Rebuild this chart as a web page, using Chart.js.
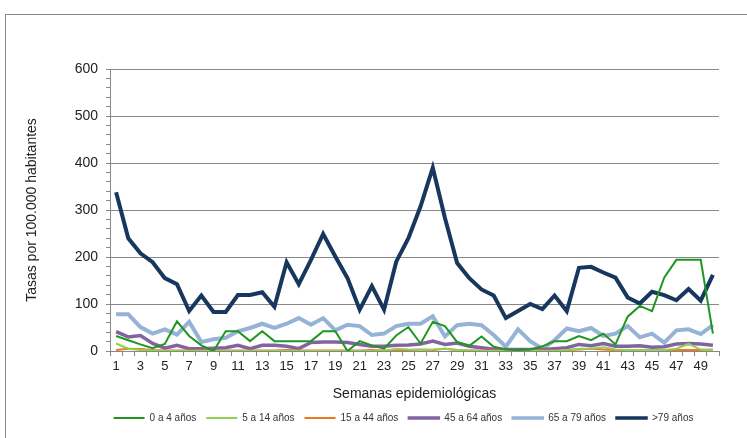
<!DOCTYPE html>
<html>
<head>
<meta charset="utf-8">
<script src="https://cdn.jsdelivr.net/npm/chart.js@4"></script>
<style>
  html, body { margin: 0; padding: 0; background: #fff; }
  #wrap { position: relative; width: 747px; height: 438px; }
  #marco { position: absolute; left: 5px; top: 14px; width: 745px; height: 430px; border: 1px solid #888; box-sizing: border-box; }
  #grafico { position: absolute; left: 0; top: 0; }
</style>
</head>
<body>
<div id="wrap">
  <div id="marco"></div>
  <canvas id="grafico" width="747" height="438"></canvas>
</div>
<script>
// semanas epidemiologicas 1..50
const semanas = [];
for (let i = 1; i <= 50; i++) semanas.push(String(i));

const edad0a4 = [32,23,14,6,15,63,32,12,0,42,42,21,42,21,21,21,21,42,42,0,21,12,5,33,51,16,62,53,19,11,31,9,3,2,3,10,21,21,32,23,37,14,73,96,85,156,194,194,194,37];
const edad5a14 = [16,5,2,1,0,0,0,0,0,0,0,0,0,0,0,0,0,0,0,0,0,0,0,5,3,2,3,5,2,1,0,0,0,0,0,0,0,2,5,5,8,3,2,2,2,2,5,15,3,2];
const edad15a44 = [2,5,4,2,1,1,1,1,1,1,1,1,1,1,2,1,1,1,1,1,1,2,1,2,2,3,2,5,2,1,1,1,1,1,1,1,1,2,3,5,3,2,2,2,2,2,2,2,2,3];
const edad45a64 = [41,30,33,16,6,12,5,5,6,7,12,5,12,12,10,5,18,19,19,18,14,10,10,12,13,15,21,14,17,10,7,4,3,3,3,3,5,7,14,11,16,10,10,11,8,9,15,16,15,12];
const edad65a79 = [78,78,51,37,46,35,62,19,25,28,42,49,58,49,58,70,56,70,44,56,53,34,37,53,58,58,74,31,55,58,55,34,9,46,21,5,23,48,42,49,32,37,53,29,37,18,44,46,36,55];
const edadMas79 = [338,240,208,189,155,142,85,118,83,83,119,119,125,94,189,142,194,249,201,155,88,138,88,190,240,308,390,283,187,155,131,118,70,85,100,89,118,85,177,179,167,156,114,101,126,119,108,132,107,162];

const fuente = "'Liberation Sans', Arial, sans-serif";

function serie(label, data, color, ancho) {
    return {
        label: label,
        data: data,
        borderColor: color,
        backgroundColor: color,
        borderWidth: ancho,
        pointRadius: 0,
        tension: 0
    };
}

// corre la leyenda un poco a la derecha, como en el original
const moverLeyenda = {
    id: 'moverLeyenda',
    afterLayout: function (chart) {
        chart.legend.left += 32;
        chart.legend.right += 32;
    }
};

const ctx = document.getElementById('grafico');

new Chart(ctx, {
    type: 'line',
    data: {
        labels: semanas,
        datasets: [
            serie('0 a 4 años', edad0a4, '#1e9620', 2),
            serie('5 a 14 años', edad5a14, '#92d050', 2),
            serie('15 a 44 años', edad15a44, '#f07622', 2),
            serie('45 a 64 años', edad45a64, '#8064a2', 3.5),
            serie('65 a 79 años', edad65a79, '#95b3d7', 4),
            serie('>79 años', edadMas79, '#17375e', 4)
        ]
    },
    plugins: [moverLeyenda],
    options: {
        responsive: false,
        animation: false,
        layout: { padding: { left: 24, right: 28, top: 69, bottom: 5 } },
        plugins: {
            legend: {
                position: 'bottom',
                labels: {
                    color: '#333',
                    font: { family: fuente, size: 10 },
                    boxWidth: 31,
                    boxHeight: 2,
                    padding: 10,
                    generateLabels: function (chart) {
                        const items = Chart.defaults.plugins.legend.labels.generateLabels(chart);
                        items.forEach(function (it, i) {
                            it.fillStyle = it.strokeStyle;
                            it.lineWidth = i >= 3 ? 1.5 : 0;
                        });
                        return items;
                    }
                }
            },
            tooltip: { enabled: false }
        },
        scales: {
            x: {
                offset: true,
                afterFit: function (s) { s.height = 52; },
                grid: {
                    offset: true,
                    drawOnChartArea: false,
                    color: '#888',
                    tickLength: 5
                },
                border: { color: '#888' },
                ticks: {
                    autoSkip: false,
                    maxRotation: 0,
                    color: '#222',
                    font: { family: fuente, size: 13 },
                    callback: function (v, i) { return i % 2 === 0 ? this.getLabelForValue(v) : ''; }
                },
                title: {
                    display: true,
                    text: 'Semanas epidemiológicas',
                    color: '#222',
                    font: { family: fuente, size: 14 },
                    padding: { top: 4, bottom: 0 }
                }
            },
            y: {
                min: 0,
                max: 600,
                afterFit: function (s) { s.width = 86; },
                grid: {
                    color: function (c) { return c.tick && c.tick.value % 100 === 0 ? '#888' : 'rgba(0,0,0,0)'; },
                    tickColor: '#888',
                    tickLength: 4
                },
                border: { color: '#888' },
                ticks: {
                    stepSize: 20,
                    autoSkip: false,
                    color: '#222',
                    font: { family: fuente, size: 14 },
                    padding: 8,
                    callback: function (v) { return v % 100 === 0 ? v : ''; }
                },
                title: {
                    display: true,
                    text: 'Tasas por 100.000 habitantes',
                    color: '#222',
                    font: { family: fuente, size: 14 },
                    padding: { top: 0, bottom: 4 }
                }
            }
        }
    }
});
</script>
</body>
</html>
